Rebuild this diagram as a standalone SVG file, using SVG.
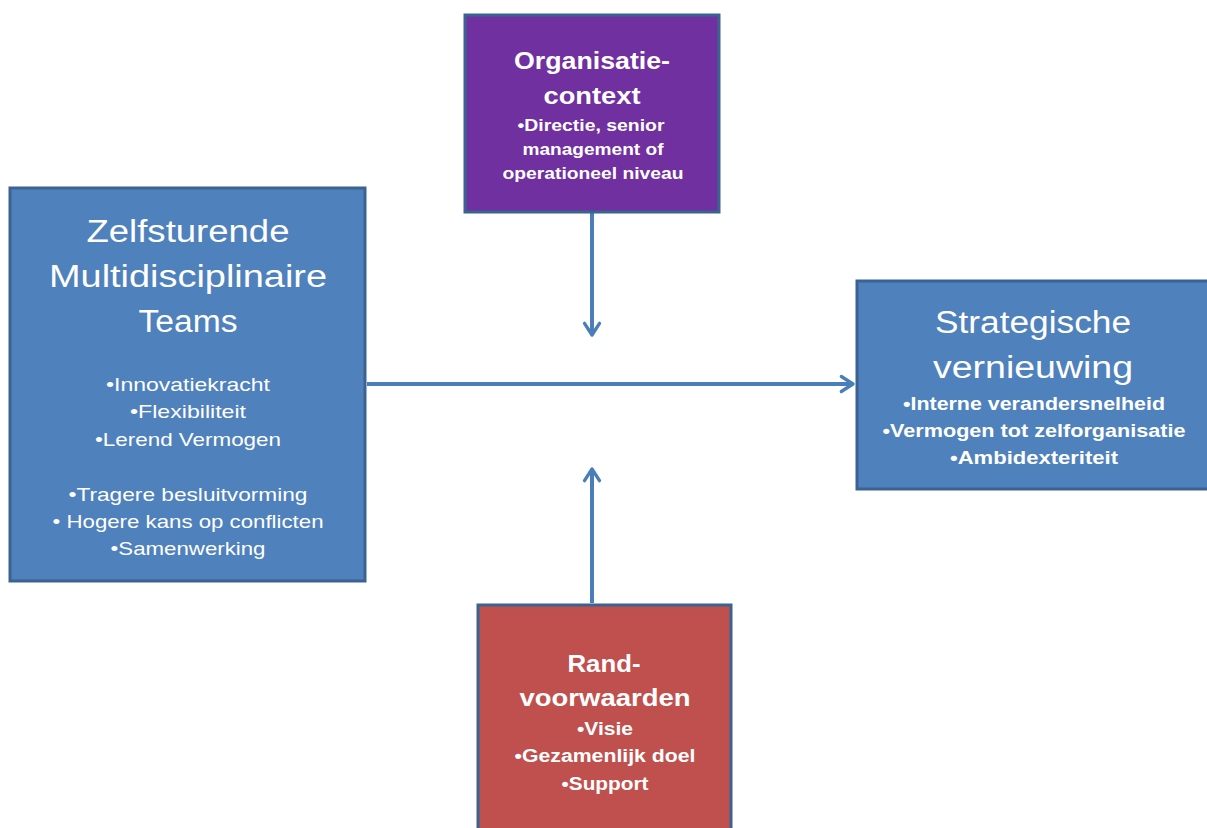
<svg xmlns="http://www.w3.org/2000/svg" width="1207" height="828" viewBox="0 0 1207 828">
<style>
.box{stroke:#3a6391;stroke-width:3}
.t{font-family:"Liberation Sans",Arial,sans-serif;fill:#fff;text-anchor:middle}
.big{font-size:31px}
.b{font-weight:bold}
.conn{stroke:#4a7ebb;stroke-width:4;fill:none}
</style>
<defs>
<marker id="ah" markerWidth="20" markerHeight="20" refX="0" refY="0" orient="auto" markerUnits="userSpaceOnUse" viewBox="-20 -10 24 20" overflow="visible">
<path d="M-14,-9 L0,0 L-14,9" fill="none" stroke="#4a7ebb" stroke-width="4" stroke-linecap="round" stroke-linejoin="round"/>
</marker>
</defs>
<rect width="1207" height="828" fill="#fff"/>
<g id="connectors">
<line class="conn" x1="367" y1="384" x2="853" y2="384" marker-end="url(#ah)"/>
<line class="conn" x1="592" y1="213" x2="592" y2="335" marker-end="url(#ah)"/>
<line class="conn" x1="592" y1="603" x2="592" y2="469" marker-end="url(#ah)"/>
</g>
<g id="teams">
<rect class="box" x="10" y="188" width="355" height="393" fill="#4f81bd"/>
<text class="t big" x="188" y="242" textLength="203" lengthAdjust="spacingAndGlyphs">Zelfsturende</text>
<text class="t big" x="188" y="287" textLength="278" lengthAdjust="spacingAndGlyphs">Multidisciplinaire</text>
<text class="t big" x="188" y="332" textLength="99" lengthAdjust="spacingAndGlyphs">Teams</text>
<text class="t" font-size="19" x="188" y="391" textLength="164" lengthAdjust="spacingAndGlyphs">•Innovatiekracht</text>
<text class="t" font-size="19" x="188" y="418" textLength="116" lengthAdjust="spacingAndGlyphs">•Flexibiliteit</text>
<text class="t" font-size="19" x="188" y="446" textLength="186" lengthAdjust="spacingAndGlyphs">•Lerend Vermogen</text>
<text class="t" font-size="19" x="188" y="501" textLength="239" lengthAdjust="spacingAndGlyphs">•Tragere besluitvorming</text>
<text class="t" font-size="19" x="188" y="528" textLength="271" lengthAdjust="spacingAndGlyphs">• Hogere kans op conflicten</text>
<text class="t" font-size="19" x="188" y="555" textLength="155" lengthAdjust="spacingAndGlyphs">•Samenwerking</text>
</g>
<g id="organisatie">
<rect class="box" x="465" y="15" width="254" height="197" fill="#7030a0"/>
<text class="t b" font-size="24" x="592" y="69" textLength="156" lengthAdjust="spacingAndGlyphs">Organisatie-</text>
<text class="t b" font-size="24" x="592" y="104" textLength="97" lengthAdjust="spacingAndGlyphs">context</text>
<text class="t b" font-size="17" x="591" y="131" textLength="147" lengthAdjust="spacingAndGlyphs">•Directie, senior</text>
<text class="t b" font-size="17" x="593" y="155" textLength="141" lengthAdjust="spacingAndGlyphs">management of</text>
<text class="t b" font-size="17" x="593" y="179" textLength="181" lengthAdjust="spacingAndGlyphs">operationeel niveau</text>
</g>
<g id="strategisch">
<rect class="box" x="857" y="281" width="356" height="208" fill="#4f81bd"/>
<text class="t big" x="1033" y="333" textLength="196" lengthAdjust="spacingAndGlyphs">Strategische</text>
<text class="t big" x="1033" y="378" textLength="200" lengthAdjust="spacingAndGlyphs">vernieuwing</text>
<text class="t b" font-size="18" x="1034" y="410" textLength="262" lengthAdjust="spacingAndGlyphs">•Interne verandersnelheid</text>
<text class="t b" font-size="18" x="1034" y="437" textLength="303" lengthAdjust="spacingAndGlyphs">•Vermogen tot zelforganisatie</text>
<text class="t b" font-size="18" x="1034" y="464" textLength="168" lengthAdjust="spacingAndGlyphs">•Ambidexteriteit</text>
</g>
<g id="randvoorwaarden">
<rect class="box" x="478" y="605" width="253" height="230" fill="#c0504d"/>
<text class="t b" font-size="24" x="604" y="672" textLength="73" lengthAdjust="spacingAndGlyphs">Rand-</text>
<text class="t b" font-size="24" x="605" y="706" textLength="171" lengthAdjust="spacingAndGlyphs">voorwaarden</text>
<text class="t b" font-size="18" x="605" y="735" textLength="56" lengthAdjust="spacingAndGlyphs">•Visie</text>
<text class="t b" font-size="18" x="605" y="762" textLength="181" lengthAdjust="spacingAndGlyphs">•Gezamenlijk doel</text>
<text class="t b" font-size="18" x="605" y="790" textLength="87" lengthAdjust="spacingAndGlyphs">•Support</text>
</g>
</svg>
